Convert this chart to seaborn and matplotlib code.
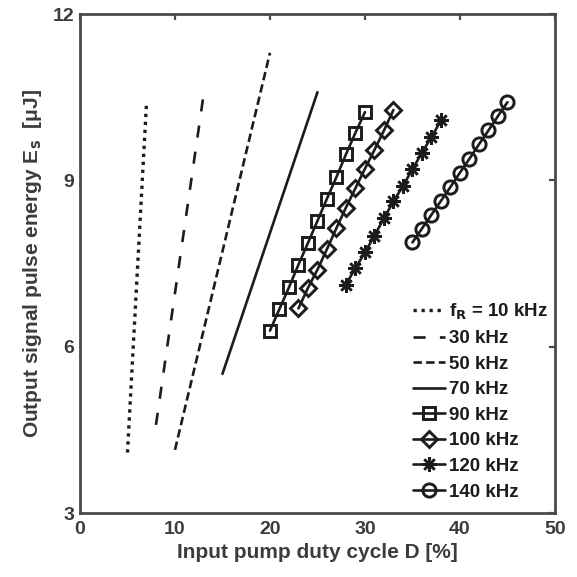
import matplotlib
matplotlib.use("Agg")
import matplotlib.pyplot as plt
import pandas as pd
import seaborn as sns

# duty cycle D [%] and output signal pulse energy Es [uJ] per repetition rate
duty_10 = [5, 7]
energy_10 = [4.09, 10.38]
duty_30 = [8, 13]
energy_30 = [4.59, 10.53]
duty_50 = [10, 20]
energy_50 = [4.14, 11.30]
duty_70 = [15, 25]
energy_70 = [5.51, 10.59]
duty_90 = [20, 21, 22, 23, 24, 25, 26, 27, 28, 29, 30]
energy_90 = [6.29, 6.68, 7.07, 7.48, 7.87, 8.27, 8.67, 9.06, 9.47, 9.86, 10.23]
duty_100 = [23, 24, 25, 26, 27, 28, 29, 30, 31, 32, 33]
energy_100 = [6.69, 7.06, 7.39, 7.76, 8.14, 8.51, 8.86, 9.21, 9.55, 9.90, 10.27]
duty_120 = [28, 29, 30, 31, 32, 33, 34, 35, 36, 37, 38]
energy_120 = [7.12, 7.42, 7.70, 8.00, 8.32, 8.62, 8.90, 9.20, 9.50, 9.78, 10.08]
duty_140 = [35, 36, 37, 38, 39, 40, 41, 42, 43, 44, 45]
energy_140 = [7.88, 8.13, 8.38, 8.63, 8.88, 9.14, 9.39, 9.65, 9.90, 10.16, 10.41]

labels = ["f$_\\mathrm{R}$ = 10 kHz", "30 kHz", "50 kHz", "70 kHz",
          "90 kHz", "100 kHz", "120 kHz", "140 kHz"]

series = [
    (duty_10, energy_10, dict(dashes=(1.0, 1.4), marker=None, linewidth=2.4)),
    (duty_30, energy_30, dict(dashes=(4.6, 5.4), marker=None)),
    (duty_50, energy_50, dict(dashes=(3.2, 1.6), marker=None)),
    (duty_70, energy_70, dict(marker=None)),
    (duty_90, energy_90, dict(marker="s", markersize=8)),
    (duty_100, energy_100, dict(marker="D", markersize=8)),
    (duty_120, energy_120, dict(marker=(8, 2, 0), markersize=10.5, markeredgewidth=1.8)),
    (duty_140, energy_140, dict(marker="o", markersize=9.5)),
]

sns.set_style("white")
plt.rcParams["font.family"] = ["Liberation Sans Narrow", "Liberation Sans", "DejaVu Sans"]
plt.rcParams["font.weight"] = "bold"
plt.rcParams["mathtext.fontset"] = "custom"
plt.rcParams["mathtext.rm"] = "Liberation Sans Narrow:bold"

ink = "#1c1c1c"
grey = "#3c3c3c"

fig = plt.figure(figsize=(5.77, 5.77), dpi=100)
ax = fig.add_axes([0.1386, 0.1109, 0.8232, 0.8648])

for (x, y, style), label in zip(series, labels):
    df = pd.DataFrame({"D": x, "Es": y})
    kw = dict(color=ink, linewidth=1.9, markerfacecolor="none",
              markeredgecolor=ink, markeredgewidth=2.1)
    kw.update(style)
    sns.lineplot(data=df, x="D", y="Es", ax=ax, label=label, **kw)

ax.set_xlim(0, 50)
ax.set_ylim(3, 12)
ax.set_xticks([0, 10, 20, 30, 40, 50])
ax.set_yticks([3, 6, 9, 12])
ax.tick_params(direction="in", top=True, right=True, length=4.5, width=1.6,
               colors="#4a4a4a", labelcolor=grey, labelsize=14)
ax.tick_params(axis="x", pad=6)
ax.tick_params(axis="y", pad=4)
for lab in ax.get_xticklabels() + ax.get_yticklabels():
    lab.set_fontweight("bold")
for sp in ax.spines.values():
    sp.set_visible(True)
    sp.set_color("#4a4a4a")
    sp.set_linewidth(2.0)

ax.set_xlabel("Input pump duty cycle D [%]", fontsize=15, fontweight="bold",
              color=grey, labelpad=3)
ax.set_ylabel("Output signal pulse energy E$_\\mathrm{s}$  [\u03bcJ]", fontsize=15,
              fontweight="bold", color=grey, labelpad=6)

leg = ax.legend(loc="lower right", bbox_to_anchor=(0.985, 0.025), frameon=False,
                fontsize=13.5, handlelength=1.7, handletextpad=0.2,
                labelspacing=0.45, borderpad=0, borderaxespad=0)
for t in leg.get_texts():
    t.set_color(ink)
    t.set_fontweight("bold")

fig.savefig("out.png", dpi=100)
